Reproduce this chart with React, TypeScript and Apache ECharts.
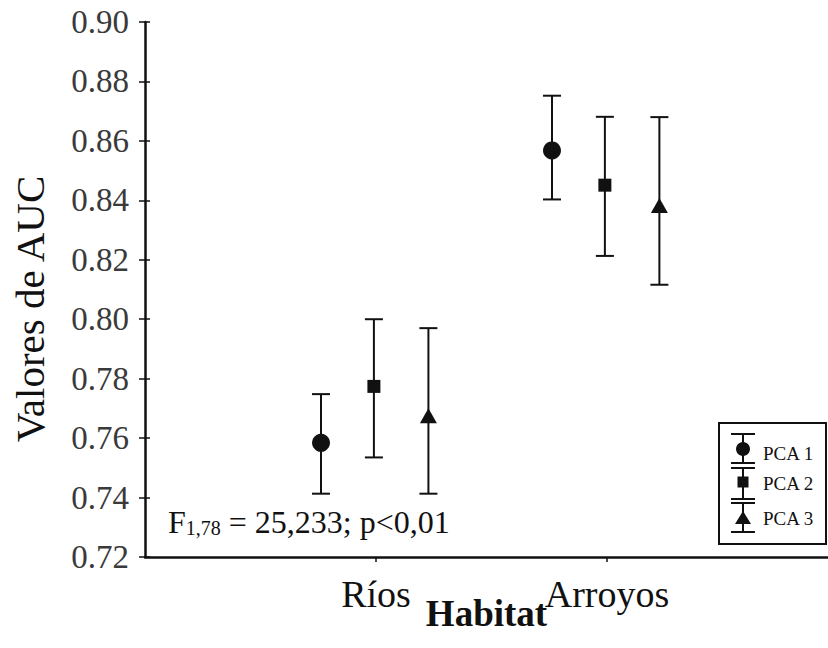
import React, { useEffect, useRef } from "react";
import * as echarts from "echarts";

const categories = ["Ríos", "Arroyos"];
const seriesNames = ["PCA 1", "PCA 2", "PCA 3"];
const pca1Mean = [0.7584, 0.8568];
const pca1Low = [0.7413, 0.8403];
const pca1High = [0.7748, 0.8752];
const pca2Mean = [0.7774, 0.8451];
const pca2Low = [0.7535, 0.8213];
const pca2High = [0.8, 0.8681];
const pca3Mean = [0.7675, 0.8383];
const pca3Low = [0.7413, 0.8116];
const pca3High = [0.797, 0.868];
const yTicks = [0.72, 0.74, 0.76, 0.78, 0.8, 0.82, 0.84, 0.86, 0.88, 0.9];
const annotation = { f: "F", sub: "1,78", rest: " = 25,233; p<0,01" };

const FONT = "'Liberation Serif', 'Times New Roman', serif";
const INK = "#111";

export default function App() {
  const ref = useRef<HTMLDivElement>(null);
  useEffect(() => {
    if (!ref.current) return;
    const chart = echarts.init(ref.current, undefined, { renderer: "svg" });
    const groups = [
      { mean: pca1Mean, low: pca1Low, high: pca1High, offset: -0.238, symbol: "circle", size: 18 },
      { mean: pca2Mean, low: pca2Low, high: pca2High, offset: -0.009, symbol: "rect", size: 13 },
      { mean: pca3Mean, low: pca3Low, high: pca3High, offset: 0.227, symbol: "triangle", size: [17, 15] },
    ];
    const series: any[] = [];
    groups.forEach((g, gi) => {
      series.push({
        type: "custom",
        name: seriesNames[gi] + " IC",
        xAxisIndex: 0,
        yAxisIndex: 0,
        data: categories.map((_, i) => [i + 1 + g.offset, g.low[i], g.high[i]]),
        encode: { x: 0, y: [1, 2] },
        renderItem: (params: any, api: any) => {
          const x = api.value(0);
          const pLo = api.coord([x, api.value(1)]);
          const pHi = api.coord([x, api.value(2)]);
          const hw = 9;
          const style = { stroke: INK, lineWidth: 2 };
          return {
            type: "group",
            children: [
              { type: "line", shape: { x1: pLo[0], y1: pLo[1], x2: pHi[0], y2: pHi[1] }, style },
              { type: "line", shape: { x1: pLo[0] - hw, y1: pLo[1], x2: pLo[0] + hw, y2: pLo[1] }, style },
              { type: "line", shape: { x1: pHi[0] - hw, y1: pHi[1], x2: pHi[0] + hw, y2: pHi[1] }, style },
            ],
          };
        },
        z: 2,
      });
      series.push({
        type: "scatter",
        name: seriesNames[gi],
        xAxisIndex: 0,
        yAxisIndex: 0,
        symbol: g.symbol,
        symbolSize: g.size,
        itemStyle: { color: INK, opacity: 1 },
        data: categories.map((_, i) => [i + 1 + g.offset, g.mean[i]]),
        z: 3,
      });
    });

    const legendX = 743;
    const legendRows = [
      { top: 434, mid: 449, bottom: 463, text: 453 },
      { top: 468, mid: 482, bottom: 499, text: 483 },
      { top: 503, mid: 518, bottom: 532, text: 518 },
    ];
    const lineStyle = { stroke: INK, lineWidth: 2 };
    const legendChildren: any[] = [
      { type: "rect", shape: { x: 719, y: 423, width: 107, height: 121 }, style: { fill: "#fff", stroke: INK, lineWidth: 2 } },
    ];
    legendRows.forEach((r, i) => {
      legendChildren.push(
        { type: "line", shape: { x1: legendX, y1: r.top, x2: legendX, y2: r.bottom }, style: lineStyle },
        { type: "line", shape: { x1: legendX - 12, y1: r.top, x2: legendX + 12, y2: r.top }, style: lineStyle },
        { type: "line", shape: { x1: legendX - 12, y1: r.bottom, x2: legendX + 12, y2: r.bottom }, style: lineStyle }
      );
      if (i === 0) legendChildren.push({ type: "circle", shape: { cx: legendX, cy: r.mid, r: 7 }, style: { fill: INK } });
      if (i === 1) legendChildren.push({ type: "rect", shape: { x: legendX - 5.5, y: r.mid - 5.5, width: 11, height: 11 }, style: { fill: INK } });
      if (i === 2)
        legendChildren.push({
          type: "polygon",
          shape: { points: [[legendX, r.mid - 7], [legendX + 8, r.mid + 6], [legendX - 8, r.mid + 6]] },
          style: { fill: INK },
        });
      legendChildren.push({
        type: "text",
        style: { x: 763, y: r.text, text: seriesNames[i], font: `19px ${FONT}`, fill: INK, verticalAlign: "middle", align: "left" },
      });
    });

    const yAxisBase = {
      type: "value",
      min: yTicks[0],
      max: yTicks[yTicks.length - 1],
      interval: 0.02,
      position: "left",
      splitLine: { show: false },
    };

    chart.setOption({
      animation: false,
      backgroundColor: "#fff",
      grid: { left: 145, right: 0, top: 22, bottom: 91, containLabel: false, outerBoundsMode: "none" },
      xAxis: [
        {
          type: "value",
          min: 0,
          max: 2.957,
          position: "bottom",
          splitLine: { show: false },
          axisLine: { show: true, lineStyle: { color: INK, width: 2.5 } },
          axisTick: { show: true, customValues: [1, 2], length: 5, lineStyle: { color: INK, width: 1.5 } },
          axisLabel: {
            customValues: [1, 2],
            formatter: (v: number) => categories[Math.round(v) - 1] ?? "",
            fontFamily: FONT,
            fontSize: 38,
            color: INK,
            margin: 18,
          },
          name: "Habitat",
          nameLocation: "middle",
          nameGap: 38,
          nameMoveOverlap: false,
          nameTextStyle: { fontFamily: FONT, fontSize: 37, fontWeight: "bold", color: INK },
        },
      ],
      yAxis: [
        {
          ...yAxisBase,
          axisLine: { show: true, lineStyle: { color: INK, width: 2.5 } },
          axisTick: { show: true, length: 6, lineStyle: { color: INK, width: 1.5 } },
          axisLabel: {
            formatter: (v: number) => v.toFixed(2),
            fontFamily: FONT,
            fontSize: 33,
            color: "#3a3a3a",
            margin: 16,
          },
        },
        {
          ...yAxisBase,
          axisLine: { show: false },
          axisTick: { show: true, inside: true, length: 5, lineStyle: { color: INK, width: 1.5 } },
          axisLabel: { show: false },
        },
      ],
      series,
      graphic: [
        {
          type: "text",
          x: 30,
          y: 309,
          rotation: Math.PI / 2,
          style: { text: "Valores de AUC", font: `41px ${FONT}`, fill: INK, align: "center", verticalAlign: "middle" },
        },
        {
          type: "text",
          x: 168,
          y: 506,
          style: {
            text: `{a|${annotation.f}}{b|${annotation.sub}}{a|${annotation.rest}}`,
            align: "left",
            verticalAlign: "top",
            rich: {
              a: { fontFamily: FONT, fontSize: 32, lineHeight: 32, fill: INK, color: INK },
              b: { fontFamily: FONT, fontSize: 20, lineHeight: 20, padding: [22, 0, 0, 0], verticalAlign: "bottom", color: INK, fill: INK },
            },
          },
        },
        { type: "group", children: legendChildren, z: 10 },
      ],
    });
    return () => chart.dispose();
  }, []);
  return <div ref={ref} style={{ position: "absolute", left: 0, top: 0, width: 828, height: 648 }} />;
}
